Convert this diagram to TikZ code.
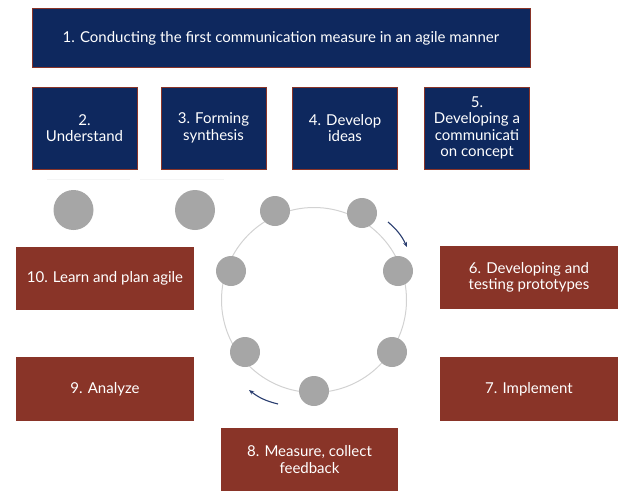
\documentclass[tikz,border=0pt]{standalone}
\usepackage{fontspec}
\setmainfont{Lato}
\usetikzlibrary{arrows.meta}
\definecolor{navy}{RGB}{14,40,94}
\definecolor{rust}{RGB}{137,52,40}
\definecolor{dotgrey}{RGB}{166,166,166}
\definecolor{ringgrey}{RGB}{210,210,210}
\definecolor{arrnavy}{RGB}{40,60,110}
\tikzset{
  navybox/.style={rectangle, fill=navy, draw=rust, line width=0.8pt, text=white, align=center, inner sep=2pt, font=\fontsize{15}{16.5}\selectfont},
  rustbox/.style={rectangle, fill=rust, draw=none, text=white, align=center, inner sep=2pt, font=\fontsize{15}{16.5}\selectfont},
  dot/.style={circle, fill=dotgrey, draw=none, minimum size=30pt, inner sep=0pt},
  bigdot/.style={circle, fill=dotgrey, draw=none, minimum size=40pt, inner sep=0pt},
  ring/.style={draw=ringgrey, line width=1pt},
  flowarrow/.style={draw=arrnavy, line width=1.1pt, -{Stealth[length=5pt,width=4pt]}},
  faint/.style={draw=black!4, line width=0.6pt}
}
\begin{document}
\begin{tikzpicture}[x=1pt,y=-1pt]
\useasboundingbox (0,0) rectangle (640,496);
% top boxes
\node[navybox, minimum width=498pt, minimum height=59pt] (b1) at (281,38) {1. Conducting the first communication measure in an agile manner};
\node[navybox, minimum width=105pt, minimum height=82pt] (b2) at (84.5,128) {2.\\Understand};
\node[navybox, minimum width=105pt, minimum height=82pt] (b3) at (213.5,128) {3. Forming\\synthesis};
\node[navybox, minimum width=105pt, minimum height=82pt] (b4) at (345,128) {4. Develop\\ideas};
\node[navybox, minimum width=105pt, minimum height=82pt] (b5) at (477,128) {5.\\Developing a\\communicati\\on concept};
% faint lines
\coordinate (f1a) at (47,179); \coordinate (f1b) at (130,179);
\coordinate (f2a) at (140,179); \coordinate (f2b) at (224,179);
\draw[faint] (f1a) -- (f1b);
\draw[faint] (f2a) -- (f2b);
% big dots
\node[bigdot] (g1) at (73.5,210) {};
\node[bigdot] (g2) at (195,210) {};
% ring
\coordinate (ctr) at (314,300);
\draw[ring] (ctr) circle[radius=92.5];
% dots on ring
\node[dot] (d1) at (275,211) {};
\node[dot] (d2) at (362,213) {};
\node[dot] (d3) at (398,271) {};
\node[dot] (d4) at (392,352) {};
\node[dot] (d5) at (314,391) {};
\node[dot] (d6) at (245,352) {};
\node[dot] (d7) at (231,271) {};
% arrows
\coordinate (a1s) at (388,222); \coordinate (a1e) at (407,247);
\coordinate (a2s) at (278,404); \coordinate (a2e) at (249,390);
\draw[flowarrow] (a1s) to[bend left=12] (a1e);
\draw[flowarrow] (a2s) to[bend left=12] (a2e);
% red boxes
\node[rustbox, minimum width=178pt, minimum height=63pt] (b10) at (105,278.5) {10. Learn and plan agile};
\node[rustbox, minimum width=178pt, minimum height=64pt] (b9) at (105,389) {9. Analyze};
\node[rustbox, minimum width=178pt, minimum height=63pt] (b6) at (529,277.5) {6. Developing and\\testing prototypes};
\node[rustbox, minimum width=178pt, minimum height=64pt] (b7) at (529,389) {7. Implement};
\node[rustbox, minimum width=177pt, minimum height=63pt] (b8) at (309.5,459.5) {8. Measure, collect\\feedback};
\end{tikzpicture}
\end{document}
